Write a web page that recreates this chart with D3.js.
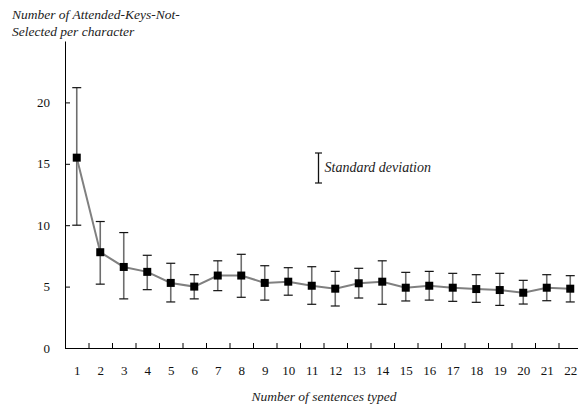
<!DOCTYPE html>
<html>
<head>
<meta charset="utf-8">
<script src="https://cdn.jsdelivr.net/npm/d3@7"></script>
<style>
  body { margin: 0; background: #fff; }
  svg { display: block; font-family: "Liberation Serif", "Times New Roman", serif; }
  .axis path, .axis line { stroke: #000; }
  .axis text { font-size: 13px; fill: #111; font-family: "Liberation Serif", serif; }
  .title { font-size: 13.5px; font-style: italic; fill: #222; }
</style>
</head>
<body>
<div id="chart"></div>
<script>
var svgWidth = 578;
var svgHeight = 405;

// data
var sentences = [1, 2, 3, 4, 5, 6, 7, 8, 9, 10, 11, 12, 13, 14, 15, 16, 17, 18, 19, 20, 21, 22];
var meanValues = [15.5, 7.8, 6.6, 6.2, 5.3, 5.0, 5.9, 5.9, 5.3, 5.4, 5.07, 4.83, 5.27, 5.4, 4.91, 5.07, 4.91, 4.8, 4.72, 4.5, 4.91, 4.83];
var upperValues = [21.2, 10.3, 9.4, 7.55, 6.9, 5.97, 7.1, 7.63, 6.7, 6.54, 6.62, 6.24, 6.49, 7.1, 6.16, 6.24, 6.08, 5.97, 6.08, 5.51, 5.97, 5.89];
var lowerValues = [10.0, 5.2, 4.0, 4.75, 3.75, 4.0, 4.67, 4.13, 3.9, 4.3, 3.56, 3.42, 4.07, 3.56, 3.83, 3.9, 3.8, 3.72, 3.47, 3.58, 3.85, 3.75];
var yTicks = [0, 5, 10, 15, 20];

var svg = d3.select("#chart")
  .append("svg")
  .attr("width", svgWidth)
  .attr("height", svgHeight);

var xScale = d3.scaleLinear()
  .domain([0.5, 22.5])
  .range([65, 582]);

var yScale = d3.scaleLinear()
  .domain([0, 25])
  .range([348, 41]);

// x axis: ticks between categories, labels under categories
svg.append("g")
  .attr("class", "axis")
  .attr("transform", "translate(0,348)")
  .call(d3.axisBottom(xScale)
    .tickValues(sentences.map(d => d + 0.5))
    .tickSize(-5)
    .tickSizeOuter(0)
    .tickFormat(""));

var xLabels = svg.append("g")
  .attr("class", "axis")
  .attr("transform", "translate(0,348)")
  .call(d3.axisBottom(xScale)
    .tickValues(sentences)
    .tickSize(0)
    .tickPadding(18)
    .tickFormat(d3.format("d")));
xLabels.select(".domain").remove();

// y axis
svg.append("g")
  .attr("class", "axis")
  .attr("transform", "translate(65,0)")
  .call(d3.axisLeft(yScale)
    .tickValues(yTicks)
    .tickSize(-5)
    .tickSizeOuter(0)
    .tickPadding(15));

var points = sentences.map(function(s, i) {
  return { s: s, mean: meanValues[i], hi: upperValues[i], lo: lowerValues[i] };
});

// error bars
var bars = svg.append("g").selectAll("g")
  .data(points)
  .enter()
  .append("g");

bars.append("line")
  .attr("x1", d => xScale(d.s))
  .attr("x2", d => xScale(d.s))
  .attr("y1", d => yScale(d.lo))
  .attr("y2", d => yScale(d.hi))
  .attr("stroke", "#6e6e6e")
  .attr("stroke-width", 1.6);

["hi", "lo"].forEach(function(k) {
  bars.append("line")
    .attr("x1", d => xScale(d.s) - 4.5)
    .attr("x2", d => xScale(d.s) + 4.5)
    .attr("y1", d => yScale(d[k]))
    .attr("y2", d => yScale(d[k]))
    .attr("stroke", "#111")
    .attr("stroke-width", 1.2);
});

// mean line
svg.append("path")
  .datum(points)
  .attr("fill", "none")
  .attr("stroke", "#808080")
  .attr("stroke-width", 2)
  .attr("d", d3.line().x(d => xScale(d.s)).y(d => yScale(d.mean)));

svg.append("g").selectAll("rect")
  .data(points)
  .enter()
  .append("rect")
  .attr("x", d => xScale(d.s) - 4)
  .attr("y", d => yScale(d.mean) - 4)
  .attr("width", 8)
  .attr("height", 8)
  .attr("fill", "#000");

// legend
var legend = svg.append("g").attr("transform", "translate(318.5,0)");
legend.append("line").attr("x1", 0).attr("x2", 0).attr("y1", 153).attr("y2", 183)
  .attr("stroke", "#111").attr("stroke-width", 1.3);
legend.append("line").attr("x1", -3.5).attr("x2", 3.5).attr("y1", 153).attr("y2", 153)
  .attr("stroke", "#111").attr("stroke-width", 1.2);
legend.append("line").attr("x1", -3.5).attr("x2", 3.5).attr("y1", 183).attr("y2", 183)
  .attr("stroke", "#111").attr("stroke-width", 1.2);
legend.append("text")
  .attr("class", "title")
  .attr("x", 6)
  .attr("y", 172)
  .style("font-size", "14px")
  .text("Standard deviation");

// axis titles
svg.append("text")
  .attr("class", "title")
  .attr("x", 12)
  .attr("y", 19)
  .text("Number of Attended-Keys-Not-");
svg.append("text")
  .attr("class", "title")
  .attr("x", 12)
  .attr("y", 36)
  .text("Selected per character");

svg.append("text")
  .attr("class", "title")
  .attr("x", 324)
  .attr("y", 401)
  .attr("text-anchor", "middle")
  .text("Number of sentences typed");
</script>
</body>
</html>
